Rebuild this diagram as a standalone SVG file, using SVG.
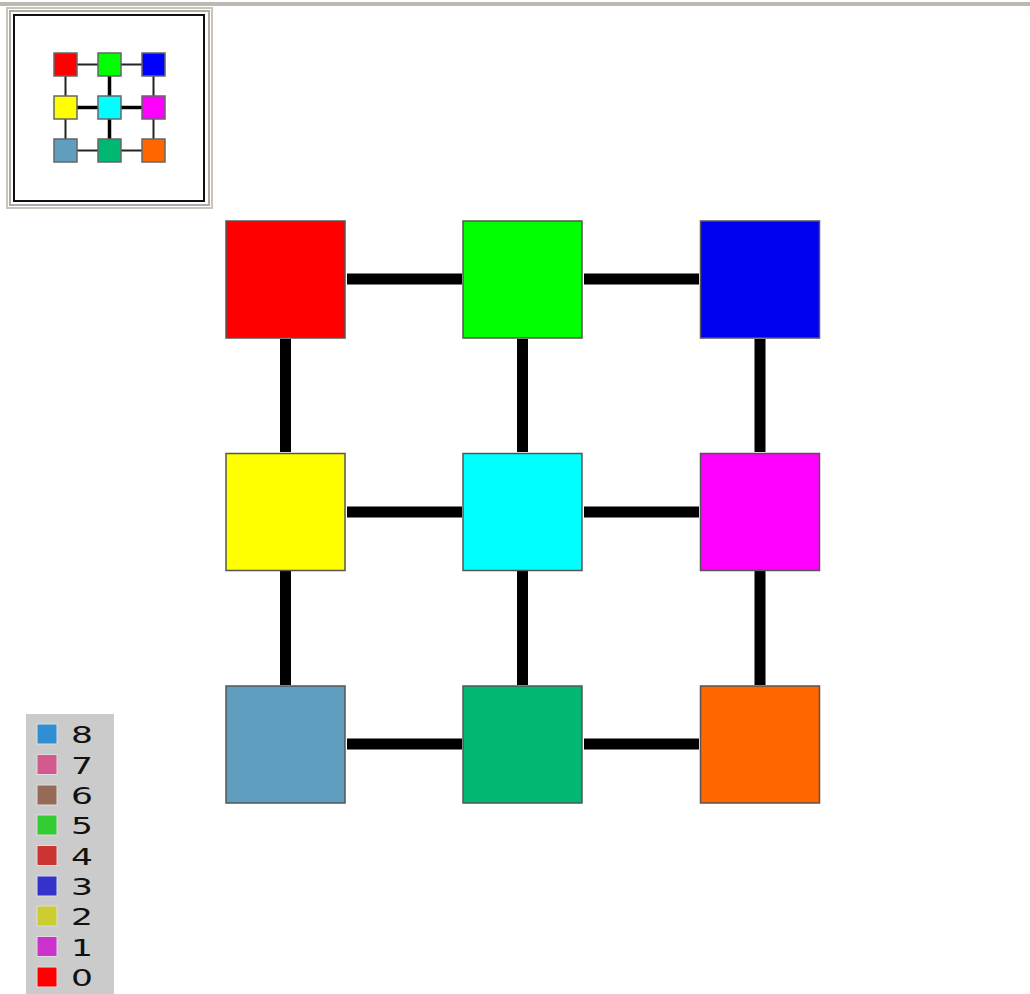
<svg xmlns="http://www.w3.org/2000/svg" width="1030" height="994" viewBox="0 0 1030 994">
<style>
.node{stroke:#555;stroke-width:1.5}
.edge{stroke:#000;stroke-width:11}
.medge{stroke:#222;stroke-width:2}
.medge.thick{stroke:#000;stroke-width:3.5}
.mnode{stroke:#666;stroke-width:1.5}
.lg{stroke:#ddd;stroke-width:1}
.lt{font-family:"DejaVu Sans",sans-serif;font-size:23px;fill:#111}
</style>
<rect width="1030" height="994" fill="#fff"/>
<!-- top border -->
<rect x="0" y="2" width="1030" height="4" fill="#bdb9b1"/>
<!-- minimap -->
<g id="minimap">
<rect x="7" y="8" width="205" height="200" fill="#fff" stroke="#c8c4bc" stroke-width="2"/>
<rect x="10" y="11" width="199" height="194" fill="none" stroke="#b0aca4" stroke-width="2"/>
<rect x="14" y="15" width="190" height="186" fill="#fff" stroke="#111" stroke-width="2"/>
<g id="mini-edges">
<line class="medge" x1="77" y1="64.5" x2="98" y2="64.5"/>
<line class="medge" x1="121" y1="64.5" x2="142" y2="64.5"/>
<line class="medge thick" x1="77" y1="107.5" x2="98" y2="107.5"/>
<line class="medge thick" x1="121" y1="107.5" x2="142" y2="107.5"/>
<line class="medge" x1="77" y1="150.5" x2="98" y2="150.5"/>
<line class="medge" x1="121" y1="150.5" x2="142" y2="150.5"/>
<line class="medge" x1="65.5" y1="76" x2="65.5" y2="96"/>
<line class="medge" x1="65.5" y1="119" x2="65.5" y2="139"/>
<line class="medge thick" x1="109.5" y1="76" x2="109.5" y2="96"/>
<line class="medge thick" x1="109.5" y1="119" x2="109.5" y2="139"/>
<line class="medge" x1="153.5" y1="76" x2="153.5" y2="96"/>
<line class="medge" x1="153.5" y1="119" x2="153.5" y2="139"/>
</g>
<rect class="mnode" x="54" y="53" width="23" height="23" fill="#ff0000"/>
<rect class="mnode" x="98" y="53" width="23" height="23" fill="#00ff00"/>
<rect class="mnode" x="142" y="53" width="23" height="23" fill="#0000ff"/>
<rect class="mnode" x="54" y="96" width="23" height="23" fill="#ffff00"/>
<rect class="mnode" x="98" y="96" width="23" height="23" fill="#00ffff"/>
<rect class="mnode" x="142" y="96" width="23" height="23" fill="#ff00ff"/>
<rect class="mnode" x="54" y="139" width="23" height="23" fill="#5f9ebe"/>
<rect class="mnode" x="98" y="139" width="23" height="23" fill="#00b872"/>
<rect class="mnode" x="142" y="139" width="23" height="23" fill="#ff6600"/>
</g>
<!-- connectors -->
<g id="edges">
<line class="edge" x1="347" y1="279" x2="462" y2="279"/>
<line class="edge" x1="584" y1="279" x2="699" y2="279"/>
<line class="edge" x1="347" y1="512" x2="462" y2="512"/>
<line class="edge" x1="584" y1="512" x2="699" y2="512"/>
<line class="edge" x1="347" y1="744" x2="462" y2="744"/>
<line class="edge" x1="584" y1="744" x2="699" y2="744"/>
<line class="edge" x1="285.5" y1="339" x2="285.5" y2="452"/>
<line class="edge" x1="522.5" y1="339" x2="522.5" y2="452"/>
<line class="edge" x1="760" y1="339" x2="760" y2="452"/>
<line class="edge" x1="285.5" y1="571" x2="285.5" y2="685"/>
<line class="edge" x1="522.5" y1="571" x2="522.5" y2="685"/>
<line class="edge" x1="760" y1="571" x2="760" y2="685"/>
</g>
<g id="n0"><rect class="node" x="226" y="221" width="119" height="117" fill="#ff0000"/></g>
<g id="n1"><rect class="node" x="463" y="221" width="119" height="117" fill="#00ff00"/></g>
<g id="n2"><rect class="node" x="700.5" y="221" width="119" height="117" fill="#0000f0"/></g>
<g id="n3"><rect class="node" x="226" y="453.5" width="119" height="117" fill="#ffff00"/></g>
<g id="n4"><rect class="node" x="463" y="453.5" width="119" height="117" fill="#00ffff"/></g>
<g id="n5"><rect class="node" x="700.5" y="453.5" width="119" height="117" fill="#ff00ff"/></g>
<g id="n6"><rect class="node" x="226" y="686" width="119" height="117" fill="#5f9ebe"/></g>
<g id="n7"><rect class="node" x="463" y="686" width="119" height="117" fill="#00b872"/></g>
<g id="n8"><rect class="node" x="700.5" y="686" width="119" height="117" fill="#ff6600"/></g>
<!-- legend -->
<g id="legend">
<rect x="26" y="714" width="88" height="280" fill="#cbcbcb"/>
<rect class="lg" x="37" y="724" width="20" height="20" fill="#2f8fd2"/>
<rect class="lg" x="37" y="754.5" width="20" height="20" fill="#d25a8c"/>
<rect class="lg" x="37" y="785" width="20" height="20" fill="#956b58"/>
<rect class="lg" x="37" y="815" width="20" height="20" fill="#33cc33"/>
<rect class="lg" x="37" y="845.5" width="20" height="20" fill="#cc3333"/>
<rect class="lg" x="37" y="876" width="20" height="20" fill="#3333cc"/>
<rect class="lg" x="37" y="906" width="20" height="20" fill="#cccc33"/>
<rect class="lg" x="37" y="936.5" width="20" height="20" fill="#cc33cc"/>
<rect class="lg" x="37" y="967" width="20" height="20" fill="#ff0000"/>
<text class="lt" transform="translate(71,743) scale(1.5,1)">8</text>
<text class="lt" transform="translate(71,773.5) scale(1.5,1)">7</text>
<text class="lt" transform="translate(71,804) scale(1.5,1)">6</text>
<text class="lt" transform="translate(71,834) scale(1.5,1)">5</text>
<text class="lt" transform="translate(71,864.5) scale(1.5,1)">4</text>
<text class="lt" transform="translate(71,895) scale(1.5,1)">3</text>
<text class="lt" transform="translate(71,925) scale(1.5,1)">2</text>
<text class="lt" transform="translate(71,955.5) scale(1.5,1)">1</text>
<text class="lt" transform="translate(71,986) scale(1.5,1)">0</text>
</g>
</svg>
